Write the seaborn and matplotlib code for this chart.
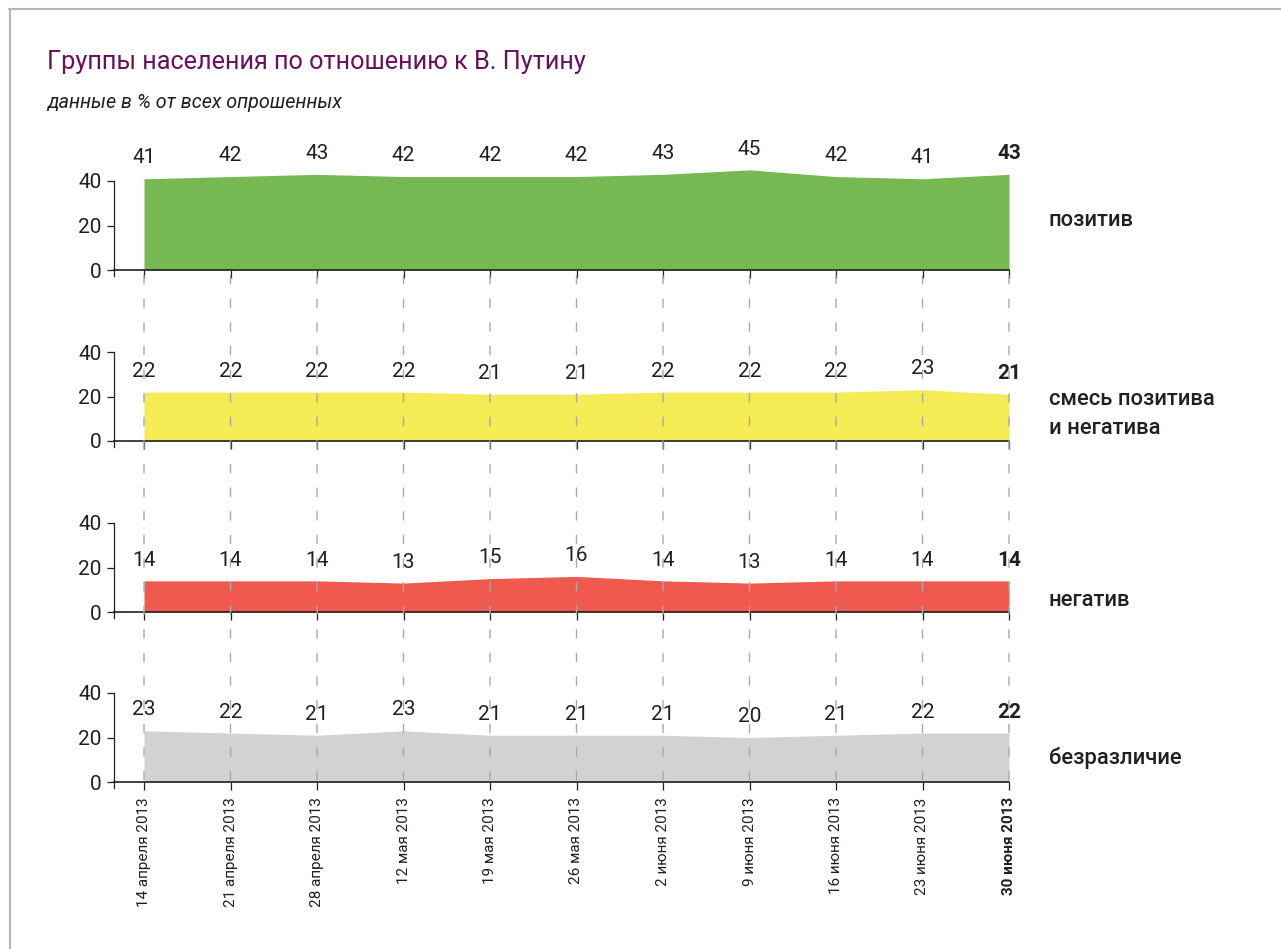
import numpy as np
import pandas as pd
import matplotlib
matplotlib.use("Agg")
import matplotlib.pyplot as plt
import seaborn as sns
from matplotlib.patches import ConnectionPatch
from matplotlib.lines import Line2D


dates = [
    "14 апреля 2013", "21 апреля 2013", "28 апреля 2013", "12 мая 2013",
    "19 мая 2013", "26 мая 2013", "2 июня 2013", "9 июня 2013",
    "16 июня 2013", "23 июня 2013", "30 июня 2013",
]

positive = [41, 42, 43, 42, 42, 42, 43, 45, 42, 41, 43]
mixed = [22, 22, 22, 22, 21, 21, 22, 22, 22, 23, 21]
negative = [14, 14, 14, 13, 15, 16, 14, 13, 14, 14, 14]
indifferent = [23, 22, 21, 23, 21, 21, 21, 20, 21, 22, 22]

group_names = ["позитив", "смесь позитива\nи негатива", "негатив", "безразличие"]

GREEN = "#76B852"
YELLOW = "#F4EB55"
RED = "#F05A4E"
GREY = "#D1D2D4"
PURPLE = "#6A0F5C"
TEXT = "#231F20"

W, H = 1281, 949

sns.set_theme(style="white")
plt.rcParams["font.family"] = ["Roboto", "DejaVu Sans"]

df = pd.DataFrame({
    "x": np.arange(len(dates)),
    "positive": positive,
    "mixed": mixed,
    "negative": negative,
    "indifferent": indifferent,
})

panels = [
    ("positive", GREEN, 270, 220),
    ("mixed", YELLOW, 441, 414),
    ("negative", RED, 612, 601),
    ("indifferent", GREY, 782, 758),
]

fig = plt.figure(figsize=(W / 100, H / 100), dpi=100)

left_px, right_px = 114, 1009
x_step = (1009 - 144) / 10
x_left = -(144 - 114) / x_step
axes = []

for i, (col, color, base_px, label_px) in enumerate(panels):
    ax = fig.add_axes([
        left_px / W,
        (H - base_px) / H,
        (right_px - left_px) / W,
        111.25 / H,
    ])
    sns.lineplot(data=df, x="x", y=col, ax=ax, color=color, linewidth=0)
    ax.fill_between(df["x"], 0, df[col], color=color, linewidth=0, zorder=2)
    ax.set_xlim(x_left, 10)
    ax.set_ylim(0, 50)
    ax.set_yticks([0, 20, 40])
    ax.set_xticks(df["x"])
    ax.set_xlabel("")
    ax.set_ylabel("")
    for s in ["top", "right"]:
        ax.spines[s].set_visible(False)
    ax.spines["left"].set_bounds(-2.5, 40)
    ax.spines["left"].set_color(TEXT)
    ax.spines["left"].set_linewidth(0.9)
    ax.spines["bottom"].set_color(TEXT)
    ax.spines["bottom"].set_linewidth(1.2)
    ax.spines["bottom"].set_zorder(3)
    ax.tick_params(axis="y", direction="out", length=5, width=0.9, color=TEXT,
                   labelsize=15, labelcolor=TEXT, pad=4, left=True)
    ax.tick_params(axis="x", direction="out", length=6, width=0.9, color=TEXT,
                   bottom=True)
    if i < 3:
        ax.set_xticklabels([])
    else:
        ax.set_xticklabels(dates, rotation=90, fontsize=11, color=TEXT)
        ax.get_xticklabels()[-1].set_fontweight("bold")
        ax.tick_params(axis="x", pad=5)
    ax.patch.set_alpha(0)

    vals = df[col].tolist()
    for j, v in enumerate(vals):
        ax.annotate(str(v), (j, v), xytext=(0, 15), textcoords="offset points",
                    ha="center", va="center", fontsize=15, color=TEXT,
                    fontweight="bold" if j == len(vals) - 1 else "normal",
                    annotation_clip=False, zorder=5)

    fig.text(1049 / W, (H - label_px) / H, group_names[i], fontsize=15.8,
             color=TEXT, ha="left", va="center", linespacing=1.5,
             fontweight="medium")
    axes.append(ax)

# dashed guides from the first panel down to the last
for j in df["x"]:
    con = ConnectionPatch(xyA=(j, -2.5), coordsA=axes[0].transData,
                          xyB=(j, -2.5), coordsB=axes[3].transData,
                          color="#A7A9AC", linewidth=1.0,
                          linestyle=(0, (6, 11)), zorder=10)
    fig.add_artist(con)

fig.text(47 / W, (H - 62) / H, "Группы населения по отношению к В. Путину",
         fontsize=18.2, color=PURPLE, ha="left", va="center")
fig.text(47 / W, (H - 103) / H, "данные в % от всех опрошенных",
         fontsize=14.2, color=TEXT, style="italic", ha="left", va="center")

# frame lines at the top and left
fig.add_artist(Line2D([9 / W, 1], [(H - 9) / H, (H - 9) / H],
                      transform=fig.transFigure, color="#B5B5B5", linewidth=1.5))
fig.add_artist(Line2D([9.5 / W, 9.5 / W], [0, (H - 9) / H],
                      transform=fig.transFigure, color="#B5B5B5", linewidth=1.5))

fig.savefig("out.png", dpi=100)
